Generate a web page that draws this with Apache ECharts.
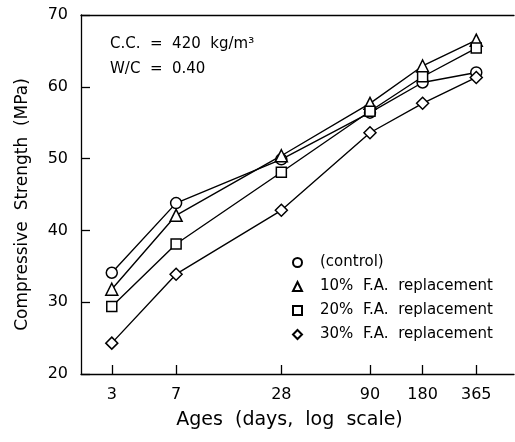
<!DOCTYPE html>
<html>
<head>
<meta charset="utf-8">
<script src="https://cdn.jsdelivr.net/npm/echarts@6/dist/echarts.min.js"></script>
<style>
  html, body { margin: 0; padding: 0; background: #fff; }
  #chart { width: 515px; height: 442px; }
</style>
</head>
<body>
<div id="chart"></div>
<script>
// ages (days) and strengths (MPa)
var ages = [3, 7, 28, 90, 180, 365];
var control = [34.1, 43.8, 49.9, 56.4, 60.6, 62.0];
var fa10 = [31.8, 42.1, 50.4, 57.7, 62.9, 66.5];
var fa20 = [29.4, 38.1, 48.1, 56.6, 61.4, 65.4];
var fa30 = [24.3, 33.9, 42.8, 53.6, 57.7, 61.3];
var seriesNames = ['(control)', '10%  F.A.  replacement', '20%  F.A.  replacement', '30%  F.A.  replacement'];
var symbols = ['circle', 'triangle', 'rect', 'diamond'];
var yTicks = [20, 30, 40, 50, 60, 70];

var font = 'DejaVu Sans';

function pairs(vals) {
  return ages.map(function (a, i) { return [a, vals[i]]; });
}

var chart = echarts.init(document.getElementById('chart'));

var allVals = [control, fa10, fa20, fa30];
var symSize = [11, 12, 10, 12];

var series = allVals.map(function (vals, i) {
  return {
    name: seriesNames[i],
    type: 'line',
    data: pairs(vals),
    symbol: symbols[i],
    symbolSize: symSize[i],
    showAllSymbol: true,
    lineStyle: { color: '#000', width: 1.4 },
    itemStyle: { color: '#fff', borderColor: '#000', borderWidth: 1.5 },
    emphasis: { disabled: true },
    z: 3
  };
});

var option = {
  backgroundColor: '#fff',
  animation: false,
  grid: { left: 81, top: 15, right: 1, bottom: 68 },
  legend: {
    orient: 'vertical',
    left: 287,
    top: 250,
    itemWidth: 9,
    itemHeight: 9,
    itemGap: 9,
    textStyle: { fontFamily: font, fontSize: 15, color: '#000', padding: [0, 0, 0, 13] },
    data: seriesNames.map(function (n, i) {
      return { name: n, icon: symbols[i] };
    })
  },
  xAxis: [{
    type: 'log',
    logBase: 10,
    min: 2,
    max: 600,
    name: 'Ages  (days,  log  scale)',
    nameLocation: 'middle',
    nameGap: 37,
    nameTextStyle: { fontFamily: font, fontSize: 19, color: '#000', padding: [0, 16, 0, 0] },
    axisLine: { lineStyle: { color: '#000', width: 1.3 } },
    axisTick: { inside: true, length: 9, lineStyle: { color: '#000', width: 1.3 }, customValues: ages },
    axisLabel: { fontFamily: font, fontSize: 16, color: '#000', margin: 13, customValues: ages },
    minorTick: { show: false },
    splitLine: { show: false }
  }, {
    type: 'value',
    position: 'top',
    min: 0,
    max: 1,
    axisLine: { show: true, onZero: false, lineStyle: { color: '#000', width: 1.3 } },
    axisTick: { show: false },
    axisLabel: { show: false },
    splitLine: { show: false }
  }],
  yAxis: {
    type: 'value',
    min: 20,
    max: 70,
    interval: 10,
    name: 'Compressive  Strength  (MPa)',
    nameLocation: 'middle',
    nameGap: 50,
    nameTextStyle: { fontFamily: font, fontSize: 17, color: '#000', padding: [0, 20, 0, 0] },
    axisLine: { show: true, lineStyle: { color: '#000', width: 1.3 } },
    axisTick: { show: true, inside: true, length: 9, lineStyle: { color: '#000', width: 1.3 } },
    axisLabel: {
      fontFamily: font, fontSize: 16, color: '#000', margin: 13,
      formatter: function (v) { return yTicks.indexOf(v) >= 0 ? String(v) : ''; }
    },
    splitLine: { show: false }
  },
  graphic: [
    { type: 'text', left: 110, top: 37, style: { text: 'C.C.  =  420  kg/m³', font: '15px "DejaVu Sans"', fill: '#000' } },
    { type: 'text', left: 110, top: 62, style: { text: 'W/C  =  0.40', font: '15px "DejaVu Sans"', fill: '#000' } }
  ],
  series: series
};

chart.setOption(option);
</script>
</body>
</html>
